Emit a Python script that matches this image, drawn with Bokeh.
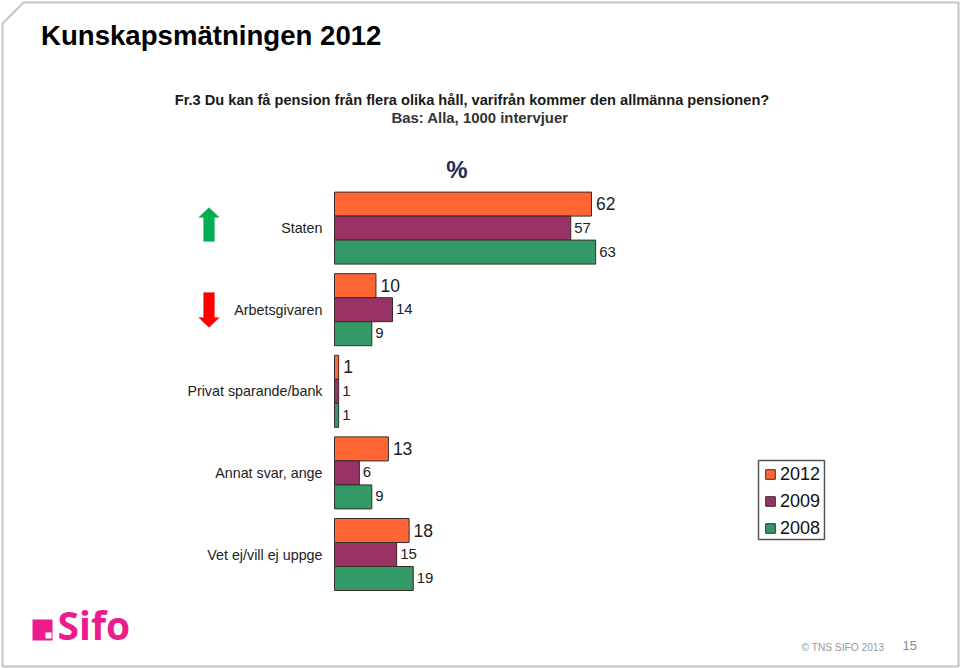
from bokeh.plotting import figure
from bokeh.models import (ColumnDataSource, Range1d, Label, PolyAnnotation, BoxAnnotation,
                          Legend, LegendItem, LinearAxis, FixedTicker)
from bokeh.embed import file_html
from bokeh.resources import INLINE

categories = ["Staten", "Arbetsgivaren", "Privat sparande/bank", "Annat svar, ange", "Vet ej/vill ej uppge"]
years = ["2012", "2009", "2008"]
values_2012 = [62, 10, 1, 13, 18]
values_2009 = [57, 14, 1, 6, 15]
values_2008 = [63, 9, 1, 9, 19]
colors = ["#FF6633", "#993366", "#339966"]
FONT = "Liberation Sans"

W, H = 960, 668
X0 = 334             # canvas x of value 0
PX_PER_UNIT = 4.145
STEP = 81.6          # px between category centres
Y_LAST = 554         # canvas y of the last category's centre
BAR = 24 / STEP

positions = list(range(len(categories) - 1, -1, -1))

p = figure(width=W, height=H, output_backend="svg", toolbar_location=None,
           x_range=Range1d(-X0 / PX_PER_UNIT, (W - X0) / PX_PER_UNIT),
           y_range=Range1d((Y_LAST - H) / STEP, Y_LAST / STEP),
           x_axis_location=None, y_axis_location=None,
           min_border=0, outline_line_color=None, background_fill_color="white", border_fill_color="white",
           styles={"position": "absolute", "left": "0px", "top": "0px"})
p.grid.visible = False

ya = LinearAxis(fixed_location=0, ticker=FixedTicker(ticks=positions),
                major_label_overrides={pos: c for pos, c in zip(positions, categories)},
                axis_line_color=None, major_tick_line_color=None, minor_tick_line_color=None,
                major_tick_in=0, major_tick_out=0, minor_tick_in=0, minor_tick_out=0, major_label_standoff=12,
                major_label_text_font=FONT, major_label_text_font_size="14.3px", major_label_text_color="#222222")
p.add_layout(ya, "left")

# legend frame, drawn below the legend entries
p.add_layout(BoxAnnotation(left=758, right=824, top=460, bottom=539, left_units="canvas", right_units="canvas",
                           top_units="canvas", bottom_units="canvas", fill_color="white", fill_alpha=1,
                           line_color="#555555", line_alpha=1, line_width=1.5))

rends = []
for i, (yr, vals, col) in enumerate(zip(years, [values_2012, values_2009, values_2008], colors)):
    ys = [pos + (1 - i) * BAR for pos in positions]
    src = ColumnDataSource(dict(y=ys, v=vals, t=[str(v) for v in vals]))
    r = p.hbar(y="y", right="v", left=0, height=BAR, source=src,
               fill_color=col, line_color="#3a2a2a", line_width=1)
    rends.append(r)
    p.text(x="v", y="y", text="t", source=src, x_offset=4.5 if i == 0 else 3.5, y_offset=-0.5,
           text_baseline="middle", text_align="left",
           text_font={"value": FONT}, text_font_size="17.5px" if i == 0 else "15px", text_color="#222222")

legend = Legend(items=[LegendItem(label=y, renderers=[r]) for y, r in zip(years, rends)],
                location=(764, H - 538.5), orientation="vertical",
                glyph_width=12, glyph_height=12, label_standoff=4, spacing=6, padding=6, margin=0,
                label_text_font=FONT, label_text_font_size="18px", label_text_color="#111111",
                label_height=18, border_line_color=None, background_fill_alpha=0)
p.add_layout(legend, "center")


def text(s, x, y, size, color="#000000", style="normal", align="left", font=FONT):
    p.add_layout(Label(x=x, y=y, x_units="canvas", y_units="canvas", text=s, text_font=font,
                       text_font_size=size, text_color=color, text_font_style=style,
                       text_align=align, text_baseline="middle"))


text("Kunskapsmätningen 2012", 40.5, 35, "27.6px", style="bold")
text("Fr.3 Du kan få pension från flera olika håll, varifrån kommer den allmänna pensionen?",
     471.5, 99, "14.6px", style="bold", align="center", color="#1a1a1a")
text("Bas: Alla, 1000 intervjuer", 479.5, 117, "14.9px", style="bold", align="center", color="#333333")
text("%", 456.5, 169, "24px", color="#1F2A55", style="bold", align="center")
text("© TNS SIFO 2013", 801, 647, "10.2px", color="#999999")
text("15", 902, 645, "13px", color="#888888")
text("Sifo", 57, 624, "39px", color="#EC1C8E", style="bold", font="Open Sans")

# page frame with its cut corner
p.add_layout(PolyAnnotation(xs=[2, 23, 958, 958, 2], ys=[23, 2, 2, 666, 666], xs_units="canvas", ys_units="canvas",
                            fill_alpha=0, line_color="#C4C4C4", line_alpha=1, line_width=2))
# arrows
p.add_layout(PolyAnnotation(xs=[208.5, 219, 214, 214, 203, 203, 198], ys=[207, 217, 217, 241, 241, 217, 217],
                            xs_units="canvas", ys_units="canvas", fill_color="#00B050", fill_alpha=1, line_color="#00B050", line_width=0.5))
p.add_layout(PolyAnnotation(xs=[208.5, 219, 214, 214, 203, 203, 198], ys=[327, 317, 317, 292, 292, 317, 317],
                            xs_units="canvas", ys_units="canvas", fill_color="#FF0000", fill_alpha=1, line_color="#FF0000", line_width=0.5))
# logo mark
p.add_layout(BoxAnnotation(left=32, right=52, top=619, bottom=640, left_units="canvas", right_units="canvas",
                           top_units="canvas", bottom_units="canvas", fill_color="#EC1C8E", fill_alpha=1, line_alpha=0))
p.add_layout(BoxAnnotation(left=45, right=51, top=632, bottom=638, left_units="canvas", right_units="canvas",
                           top_units="canvas", bottom_units="canvas", fill_color="white", fill_alpha=1, line_alpha=0))

open("out.html", "w").write(file_html(p, INLINE))
